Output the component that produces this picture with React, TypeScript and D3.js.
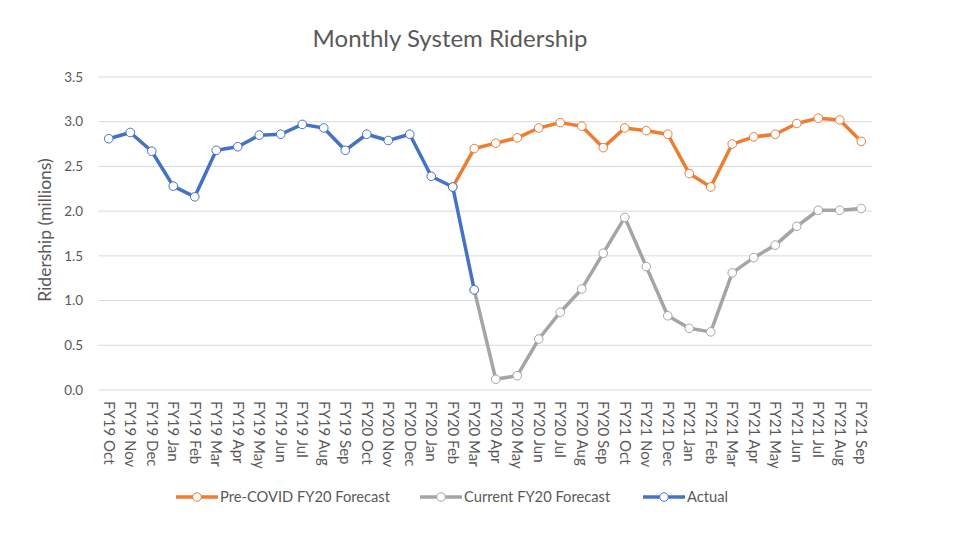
import React from "react";
import * as d3 from "d3";

const categories = [
  "FY19 Oct","FY19 Nov","FY19 Dec","FY19 Jan","FY19 Feb","FY19 Mar","FY19 Apr","FY19 May","FY19 Jun","FY19 Jul","FY19 Aug","FY19 Sep",
  "FY20 Oct","FY20 Nov","FY20 Dec","FY20 Jan","FY20 Feb","FY20 Mar","FY20 Apr","FY20 May","FY20 Jun","FY20 Jul","FY20 Aug","FY20 Sep",
  "FY21 Oct","FY21 Nov","FY21 Dec","FY21 Jan","FY21 Feb","FY21 Mar","FY21 Apr","FY21 May","FY21 Jun","FY21 Jul","FY21 Aug","FY21 Sep",
];

const preCovidForecast: (number | null)[] = [
  null,null,null,null,null,null,null,null,null,null,null,null,
  null,null,null,null,2.27,2.70,2.76,2.82,2.93,2.99,2.95,2.71,
  2.93,2.90,2.86,2.42,2.27,2.75,2.83,2.86,2.98,3.04,3.02,2.78,
];

const currentForecast: (number | null)[] = [
  null,null,null,null,null,null,null,null,null,null,null,null,
  null,null,null,null,null,1.12,0.12,0.16,0.57,0.87,1.13,1.53,
  1.93,1.38,0.83,0.69,0.65,1.31,1.48,1.62,1.83,2.01,2.01,2.03,
];

const actual: (number | null)[] = [
  2.81,2.88,2.67,2.28,2.16,2.68,2.72,2.85,2.86,2.97,2.93,2.68,
  2.86,2.79,2.86,2.39,2.27,1.12,null,null,null,null,null,null,
  null,null,null,null,null,null,null,null,null,null,null,null,
];

const yTicks = [0, 0.5, 1.0, 1.5, 2.0, 2.5, 3.0, 3.5];

const seriesList = [
  { name: "Pre-COVID FY20 Forecast", values: preCovidForecast, color: "#ED7D31" },
  { name: "Current FY20 Forecast", values: currentForecast, color: "#A5A5A5" },
  { name: "Actual", values: actual, color: "#4472C4" },
];

const FONT = "Lato, 'Open Sans', sans-serif";
const TEXT = "#595959";

export default function App() {
  const W = 960, H = 535;
  const plotLeft = 98, plotRight = 872;
  const x = d3.scalePoint<string>().domain(categories).range([plotLeft, plotRight]).padding(0.5);
  const y = d3.scaleLinear().domain([0, 3.5]).range([390, 77]);

  const line = d3
    .line<number | null>()
    .defined((d) => d !== null)
    .x((_, i) => x(categories[i]) as number)
    .y((d) => y(d as number));

  const legendItems = [
    { lineX: 176, textX: 220 },
    { lineX: 420, textX: 464 },
    { lineX: 643, textX: 687 },
  ];

  return (
    <svg width={W} height={H} style={{ position: "absolute", left: 0, top: 0, background: "#fff" }} fontFamily={FONT}>
      <rect width={W} height={H} fill="#fff" />
      <text x={450} y={47} textAnchor="middle" fontSize={24} fill={TEXT}>Monthly System Ridership</text>

      {yTicks.map((t) => (
        <g key={t}>
          <line x1={plotLeft} x2={plotRight} y1={y(t)} y2={y(t)} stroke="#D9D9D9" strokeWidth={1} />
          <text x={83} y={y(t)} dy="0.35em" textAnchor="end" fontSize={13.5} fill={TEXT}>{d3.format(".1f")(t)}</text>
        </g>
      ))}

      <text transform={`translate(51,230) rotate(-90)`} textAnchor="middle" fontSize={17.5} fill={TEXT}>Ridership (millions)</text>

      {categories.map((c) => (
        <text key={c} transform={`translate(${x(c)},401) rotate(90)`} dy="0.35em" fontSize={15} fill={TEXT}>{c}</text>
      ))}

      {seriesList.map((s) => (
        <g key={s.name}>
          <path d={line(s.values) || ""} fill="none" stroke={s.color} strokeWidth={3.5} strokeLinejoin="round" />
          {s.values.map((v, i) =>
            v === null ? null : (
              <circle key={i} cx={x(categories[i])} cy={y(v)} r={4.3} fill="#fff" stroke={s.color} strokeWidth={1} />
            )
          )}
        </g>
      ))}

      {seriesList.map((s, i) => {
        const li = legendItems[i];
        const ly = 497;
        return (
          <g key={s.name}>
            <line x1={li.lineX} x2={li.lineX + 42} y1={ly} y2={ly} stroke={s.color} strokeWidth={3.5} />
            <circle cx={li.lineX + 21} cy={ly} r={4.3} fill="#fff" stroke={s.color} strokeWidth={1} />
            <text x={li.textX} y={ly} dy="0.35em" fontSize={14.7} fill={TEXT}>{s.name}</text>
          </g>
        );
      })}
    </svg>
  );
}
